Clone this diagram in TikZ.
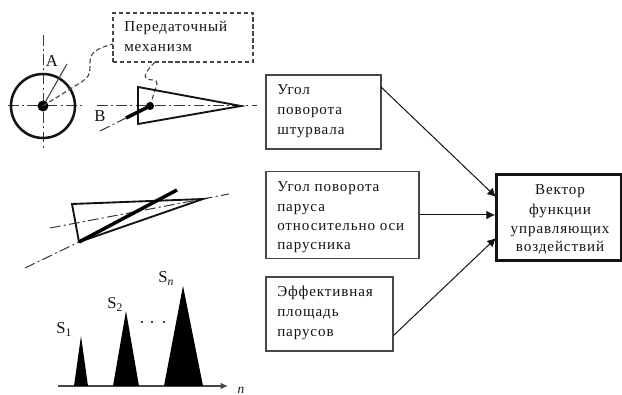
\documentclass[tikz,border=0pt]{standalone}
\usepackage{fontspec}
\setmainfont{Liberation Serif}[LetterSpace=6]
\usetikzlibrary{arrows.meta}
\definecolor{ink}{gray}{0.08}
\definecolor{boxline}{gray}{0.28}
\tikzset{
  x=0.75pt,y=-0.75pt,
  txt/.style={font=\fontsize{11.3pt}{14.7pt}\selectfont,text=ink,inner sep=0pt},
  boxtext/.style={txt,align=left,anchor=base west},
  centered/.style={txt,align=center,anchor=base},
  framebox/.style={draw=boxline,line width=1pt,fill=white,inner sep=0pt},
  axisline/.style={draw=ink!85,line width=0.75pt,dash pattern=on 8pt off 2.5pt on 1.5pt off 2.5pt},
  linkline/.style={draw=boxline,line width=0.85pt,dash pattern=on 3.6pt off 2pt},
  solidpart/.style={draw=ink,line width=1.4pt,line join=miter},
  thickbar/.style={draw=black,line width=2.6pt},
  flow/.style={draw=ink,line width=0.75pt,-{Latex[length=6.5pt,width=6.5pt]}},
  lab/.style={font=\fontsize{12.5pt}{14pt}\selectfont,text=ink,inner sep=0pt},
  spike/.style={fill=black,draw=none}
}
\begin{document}
\begin{tikzpicture}
\useasboundingbox[fill=white] (0,0) rectangle (622,395);

% Wheel
\coordinate (wc) at (43,106);
\draw[axisline] (43,35) -- (43,150);
\draw[axisline] (8,106) -- (82,106);
\node[draw=ink,line width=1.9pt,circle,minimum size=48pt,inner sep=0pt] (wheel) at (wc) {};
\coordinate (aend) at (67,64);
\draw[draw=boxline,line width=0.8pt] (wc) -- (aend);
\fill[black] (wc) circle (5.5);
\node[lab] (la) at (52,61) {А};

% Transmission box
\node[framebox,line width=0.8pt,dash pattern=on 3.2pt off 2pt,minimum width=105pt,minimum height=36.75pt] (mech) at (183,37.5) {};
\node[boxtext] (mt1) at (124,32) {Передаточный};
\node[boxtext] (mt2) at (124,52) {механизм};
\coordinate (m1) at (113,44);
\coordinate (m2) at (155,62);
\draw[linkline] (wc) -- (75,86) .. controls (90,77) and (90,76) .. (90,62) .. controls (90,52) and (98,48) .. (m1);
\draw[linkline] (m2) .. controls (148,69) and (142,77) .. (147,79) .. controls (152,81) and (157,78) .. (157,84) -- (150,106);

% Sail top view
\draw[axisline] (97,106) -- (257,106);
\coordinate (t1) at (138,87);
\coordinate (t2) at (241,106);
\coordinate (t3) at (138,124);
\draw[solidpart] (t1) -- (t2) -- (t3) -- cycle;
\coordinate (bar1) at (126,118);
\coordinate (bar2) at (150,106);
\coordinate (b0) at (100,131);
\draw[axisline] (b0) -- (bar1);
\draw[thickbar] (bar1) -- (bar2);
\fill[black] (bar2) circle (4);
\node[lab] (lb) at (100,116) {В};

% Rotated sail
\coordinate (u1) at (72,204);
\coordinate (u2) at (203,199);
\coordinate (u3) at (79,242);
\draw[axisline] (50,228) -- (229,194);
\draw[solidpart] (u1) -- (u2) -- (u3) -- cycle;
\coordinate (ubar) at (177,190);
\coordinate (u0) at (25,268);
\draw[axisline] (u0) -- (u3);
\draw[thickbar] (u3) -- (ubar);

% Sail areas
\coordinate (n0) at (58,386);
\coordinate (n1) at (228,386);
\draw[draw=boxline,line width=1pt,-{Latex[length=5.5pt,width=5pt]}] (n0) -- (n1);
\fill[spike] (74,386) -- (81,336) -- (88,386) -- cycle;
\fill[spike] (113,386) -- (126,311) -- (139,386) -- cycle;
\fill[spike] (164,386) -- (183,286) -- (203,386) -- cycle;
\node[lab,anchor=base west] (s1) at (56,334) {S\textsubscript{1}};
\node[lab,anchor=base west] (s2) at (107,309) {S\textsubscript{2}};
\node[lab,anchor=base west] (sn) at (158,283) {S\textsubscript{\textit{n}}};
\fill[black] (142,322) circle (1.1) (152,322) circle (1.1) (164,322) circle (1.1);
\node[lab,anchor=base,font=\fontsize{10pt}{10pt}\itshape] (nn) at (241,394) {n};

% Boxes
\node[framebox,minimum width=86.25pt,minimum height=55.5pt] (b1) at (323.5,112) {};
\node[boxtext] (b1a) at (277,95) {Угол};
\node[boxtext] (b1b) at (277,114.5) {поворота};
\node[boxtext] (b1c) at (277,135) {штурвала};

\node[framebox,minimum width=114.75pt,minimum height=65.25pt] (b2) at (342.5,215) {};
\node[boxtext] (b2a) at (277,192) {Угол поворота};
\node[boxtext] (b2b) at (277,212) {паруса};
\node[boxtext] (b2c) at (277,231) {относительно оси};
\node[boxtext] (b2d) at (277,249.5) {парусника};

\node[framebox,minimum width=95.25pt,minimum height=55.5pt] (b3) at (329.5,314) {};
\node[boxtext] (b3a) at (277,297) {Эффективная};
\node[boxtext] (b3b) at (277,317) {площадь};
\node[boxtext] (b3c) at (277,337) {парусов};

\node[framebox,draw=ink,line width=1.8pt,minimum width=94pt,minimum height=64.5pt] (b4) at (559,217.5) {};
\node[centered] (b4a) at (560,195) {Вектор};
\node[centered] (b4b) at (560,215) {функции};
\node[centered] (b4c) at (560,233.5) {управляющих};
\node[centered] (b4d) at (560,252) {воздействий};

% Connectors
\coordinate (f1) at (381,87);
\coordinate (f3) at (393,336);
\coordinate (g1) at (496,197);
\coordinate (g3) at (496,238);
\draw[flow] (f1) -- (g1);
\draw[flow] (b2.east) -- (b2.east -| b4.west);
\draw[flow] (f3) -- (g3);
\end{tikzpicture}
\end{document}
